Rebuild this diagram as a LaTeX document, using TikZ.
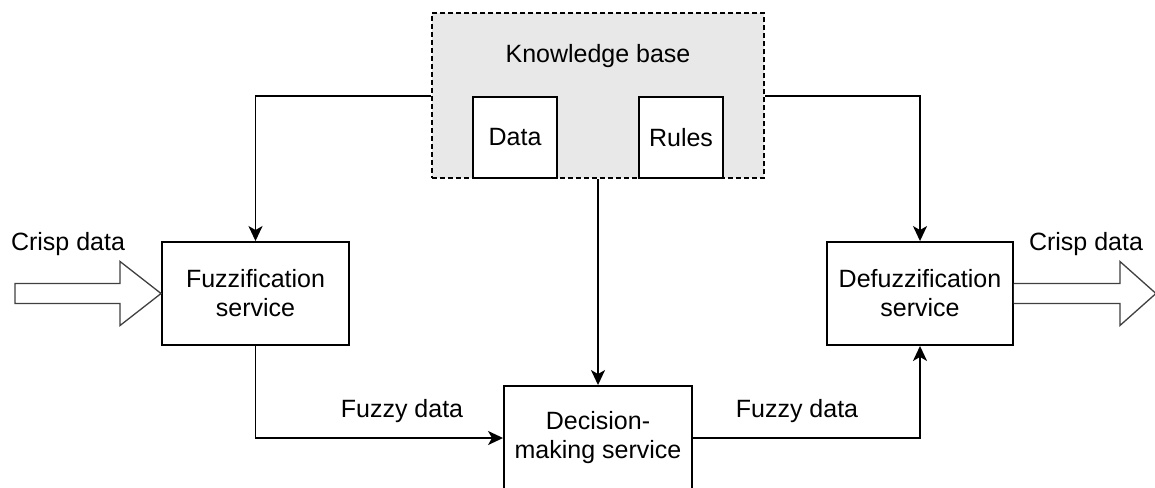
\documentclass[tikz,border=0pt]{standalone}
\usepackage{fontspec}
\setmainfont{Liberation Sans}
\usetikzlibrary{arrows.meta,calc}
\begin{document}
\begin{tikzpicture}[x=1pt,y=-1pt,
  every node/.style={font=\fontsize{25}{29}\selectfont},
  box/.style={draw, line width=1.9pt, fill=white, inner sep=0pt, align=center},
  kbbox/.style={draw, line width=1.9pt, dash pattern=on 5pt off 3pt, fill=black!9, inner sep=0pt},
  lbl/.style={anchor=base, inner sep=0pt},
  conn/.style={line width=1.9pt, -{Stealth[length=15pt,width=14pt,inset=4pt]}},
  blockarr/.style={line width=1.3pt, draw=black!75, fill=white, line join=miter}
]
\useasboundingbox (0,0) rectangle (1155,487);
\clip (0,0) rectangle (1155,487);

% knowledge base
\node[kbbox, minimum width=332pt, minimum height=165pt] (kb) at (598,95.5) {};
\node[lbl] (kbt) at (598,63) {Knowledge base};
\node[box, minimum width=84pt, minimum height=81pt] (data) at (515,137.5) {Data};
\node[box, minimum width=84pt, minimum height=81pt] (rules) at (681,137.5) {Rules};

% services
\node[box, minimum width=187pt, minimum height=103pt] (fuzz) at (255.5,293.5) {Fuzzification\\service};
\node[box, minimum width=186pt, minimum height=103pt] (defuzz) at (920,293.5) {Defuzzification\\service};
\node[box, minimum width=188pt, minimum height=104pt] (dec) at (598,438) {Decision-\\making service};

% connectors
\draw[conn] (kb.west |- data.north) -| (fuzz.north);
\draw[conn] (kb.east |- rules.north) -| (defuzz.north);
\draw[conn] (kb.south) -- (dec.north);
\draw[conn] (fuzz.south) |- (dec.west);
\draw[conn] (dec.east) -| (defuzz.south);

% block arrows
\draw[blockarr] (fuzz.west) -- ++(-41,-32) -- ++(0,22) -- ++(-105,0) -- ++(0,20) -- ++(105,0) -- ++(0,22) -- cycle;
\draw[blockarr] (defuzz.east) ++(0,-10) -- ++(106,0) -- ++(0,-22) -- ++(36,32) -- ++(-36,32) -- ++(0,-22) -- ++(-106,0);

% labels
\node[lbl] (crispin) at (68,250) {Crisp data};
\node[lbl] (crispout) at (1086,250) {Crisp data};
\node[lbl] (fuzzyin) at (402,417) {Fuzzy data};
\node[lbl] (fuzzyout) at (797,417) {Fuzzy data};
\end{tikzpicture}
\end{document}
